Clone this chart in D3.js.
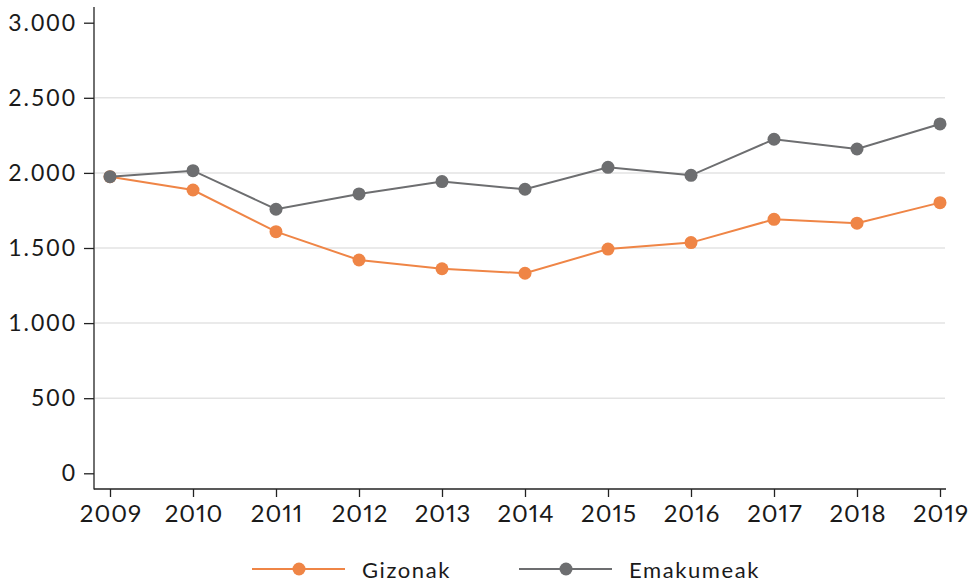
<!DOCTYPE html>
<html><head><meta charset="utf-8">
<script src="https://cdn.jsdelivr.net/npm/d3@7"></script>
<style>
body{margin:0;background:#fff;}
text{font-family:Lato,"Open Sans",sans-serif;fill:#1a1a1a;}
.xt text{font-variant-numeric:proportional-nums;font-feature-settings:"pnum" 1;}
</style></head>
<body><svg id="c" width="970" height="585"></svg>
<script>
const years = [2009,2010,2011,2012,2013,2014,2015,2016,2017,2018,2019];
const gizonak = [1975,1886,1609,1420,1362,1332,1493,1536,1691,1665,1802];
const emakumeak = [1975,2015,1758,1860,1942,1891,2037,1984,2224,2159,2326];
const yTicks = [0,500,1000,1500,2000,2500,3000];
const seriesNames = ["Gizonak","Emakumeak"];
const colors = ["#ef8546","#6d6e70"];

const svg = d3.select("#c");
const x = d3.scaleLinear().domain([2009,2019]).range([110,940]);
const y = d3.scaleLinear().domain([0,3000]).range([473.3,22.7]);
const fmt = v => d3.format(",")(v).replace(/,/g,".");

// gridlines
svg.append("g").selectAll("line").data(yTicks.filter(t=>t>0 && t<3000)).join("line")
  .attr("x1",95).attr("x2",945).attr("y1",d=>y(d)).attr("y2",d=>y(d))
  .attr("stroke","#e3e3e3").attr("stroke-width",1.5);

// y axis
const ya = svg.append("g").attr("transform","translate(94,0)")
  .call(d3.axisLeft(y).tickValues(yTicks).tickFormat(fmt).tickSize(10).tickPadding(7));
ya.select(".domain").attr("d","M0,7V489.5").attr("stroke","#222").attr("stroke-width",1.3);
ya.selectAll(".tick line").attr("stroke","#222").attr("stroke-width",1.3);
ya.selectAll(".tick text").attr("font-size",23).attr("font-family","Lato").attr("fill","#1a1a1a").attr("letter-spacing","2px");

// x axis
const xa = svg.append("g").attr("class","xt").attr("transform","translate(0,489)")
  .call(d3.axisBottom(x).tickValues(years).tickFormat(d3.format("d")).tickSize(8).tickPadding(8));
xa.select(".domain").attr("d","M94,0H946").attr("stroke","#222").attr("stroke-width",1.3);
xa.selectAll(".tick line").attr("stroke","#222").attr("stroke-width",1.3);
xa.selectAll(".tick text").attr("font-size",24).attr("font-family","Lato").attr("fill","#1a1a1a")
  .attr("letter-spacing","1px").attr("dx","0.5");

const data = [gizonak, emakumeak];
const line = d3.line().x((d,i)=>x(years[i])).y(d=>y(d));
data.forEach((s,k)=>{
  svg.append("path").datum(s).attr("d",line).attr("fill","none")
    .attr("stroke",colors[k]).attr("stroke-width",2);
  svg.append("g").selectAll("circle").data(s).join("circle")
    .attr("cx",(d,i)=>x(years[i])).attr("cy",d=>y(d)).attr("r",6.5).attr("fill",colors[k]);
});

// legend
const lg = [{x0:252,name:seriesNames[0],c:colors[0]},{x0:519,name:seriesNames[1],c:colors[1]}];
lg.forEach(l=>{
  const g = svg.append("g");
  g.append("line").attr("x1",l.x0).attr("x2",l.x0+93).attr("y1",569).attr("y2",569).attr("stroke",l.c).attr("stroke-width",2);
  g.append("circle").attr("cx",l.x0+47).attr("cy",569).attr("r",6.5).attr("fill",l.c);
  g.append("text").attr("x",l.x0+110).attr("y",578).attr("font-size",22).attr("letter-spacing","1.6px").text(l.name);
});
</script></body></html>
